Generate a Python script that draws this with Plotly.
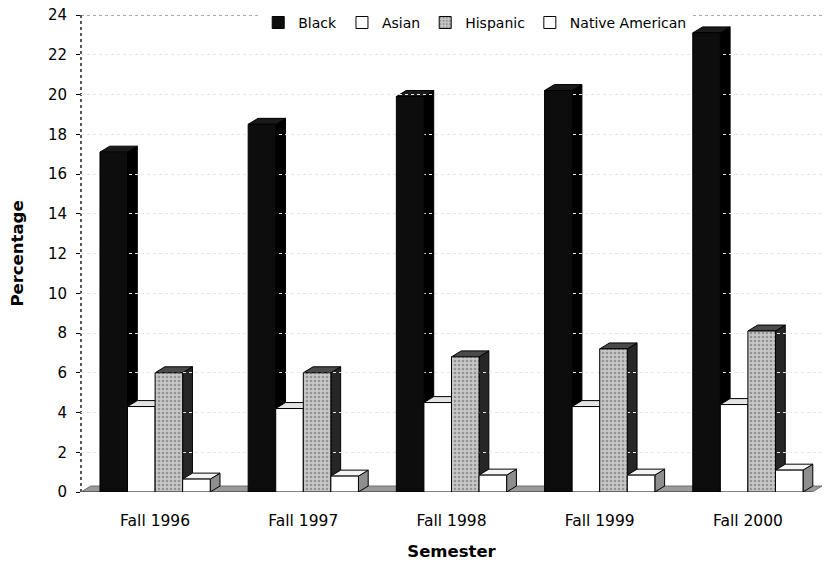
import plotly.graph_objects as go

# ---- data ----
semesters = ["Fall 1996", "Fall 1997", "Fall 1998", "Fall 1999", "Fall 2000"]
series_names = ["Black", "Asian", "Hispanic", "Native American"]
black = [17.1, 18.5, 19.9, 20.2, 23.1]
asian = [4.3, 4.2, 4.5, 4.3, 4.4]
hispanic = [6.0, 6.0, 6.8, 7.2, 8.1]
native = [0.65, 0.8, 0.85, 0.85, 1.1]
y_ticks = list(range(0, 25, 2))

series_values = [black, asian, hispanic, native]

# ---- styling ----
front_colors = ["#0d0d0d", "#ffffff", "#bdbdbd", "#ffffff"]
side_colors = ["#000000", "#f0f0f0", "#262626", "#8e8e8e"]
top_colors = ["#1a1a1a", "#e4e4e4", "#4a4a4a", "#f4f4f4"]
patterns = [dict(shape=""), dict(shape=""),
            dict(shape=".", fgcolor="#5e5e5e", bgcolor="#c8c8c8", size=4, solidity=0.35),
            dict(shape="")]

w = 0.186          # bar width in category units
dx = 0.066         # 3D depth offset (x units)
dy = 0.30          # 3D depth offset (y units)

fig = go.Figure()

shapes = []
# floor strip
shapes.append(dict(type="path", xref="x", yref="y", layer="below",
                   path=f"M -0.5,0 L {-0.5+dx},{dy} L 4.5,{dy} L {4.5-dx},0 Z",
                   fillcolor="#9a9a9a", line=dict(color="#6e6e6e", width=1)))
shapes.append(dict(type="line", xref="x", yref="y", layer="below",
                   x0=-0.5, x1=4.5 - dx, y0=0, y1=0, line=dict(color="#555555", width=1.5)))

for i in range(len(semesters)):
    for k, vals in enumerate(series_values):
        v = vals[i]
        xl = i + (k - 1.5) * w - w / 2
        xr = xl + w
        # side face
        shapes.append(dict(type="path", xref="x", yref="y", layer="below",
                           path=f"M {xr},0 L {xr+dx},{dy} L {xr+dx},{v+dy} L {xr},{v} Z",
                           fillcolor=side_colors[k], line=dict(color="#000000", width=1)))
        # top face
        shapes.append(dict(type="path", xref="x", yref="y", layer="below",
                           path=f"M {xl},{v} L {xl+dx},{v+dy} L {xr+dx},{v+dy} L {xr},{v} Z",
                           fillcolor=top_colors[k], line=dict(color="#000000", width=1)))

# plot frame (dotted top & left)
shapes.append(dict(type="line", xref="paper", yref="y", layer="below",
                   x0=0, x1=1, y0=24, y1=24, line=dict(color="#555555", width=1, dash="dot")))
shapes.append(dict(type="line", xref="paper", yref="y", layer="below",
                   x0=0, x1=0, y0=0, y1=24, line=dict(color="#222222", width=1.5, dash="dot")))

for k, (name, vals) in enumerate(zip(series_names, series_values)):
    fig.add_trace(go.Bar(
        x=[i + (k - 1.5) * w for i in range(len(semesters))],
        y=vals,
        width=w,
        name=name,
        marker=dict(color=front_colors[k], line=dict(color="#000000", width=1),
                    pattern=patterns[k]),
        hovertemplate="%{y}<extra>" + name + "</extra>",
    ))

FONT = "DejaVu Sans, Liberation Sans, Arial, sans-serif"

fig.update_layout(
    width=826, height=565,
    margin=dict(l=81, r=4, t=15, b=73),
    paper_bgcolor="white", plot_bgcolor="white",
    barmode="overlay",
    font=dict(family=FONT, color="#000000"),
    shapes=shapes,
    showlegend=True,
    legend=dict(orientation="h", x=0.532, xanchor="center", y=1.017, yanchor="top",
                bgcolor="white", font=dict(size=14), itemwidth=30,
                traceorder="normal", tracegroupgap=0),
    xaxis=dict(range=[-0.5, 4.5], tickmode="array", automargin=False,
               tickvals=list(range(len(semesters))), ticktext=semesters,
               showgrid=False, zeroline=False, showline=False, ticks="",
               tickfont=dict(size=15.5), ticklabelstandoff=17,
               title=dict(text="<b>Semester</b>", font=dict(size=16.5), standoff=16)),
    yaxis=dict(range=[0, 24], tickmode="array", tickvals=y_ticks, automargin=False,
               showgrid=True, gridcolor="#e6e6e6", griddash="dot", gridwidth=1,
               zeroline=False, showline=False, ticks="outside", ticklen=4,
               tickcolor="#000000",
               tickfont=dict(size=15), ticklabelstandoff=6,
               title=dict(text="<b>Percentage</b>", font=dict(size=16.5), standoff=20)),
)

fig.write_html("out.html", config={"displayModeBar": False},
               post_script="document.body.style.margin='0px';")
